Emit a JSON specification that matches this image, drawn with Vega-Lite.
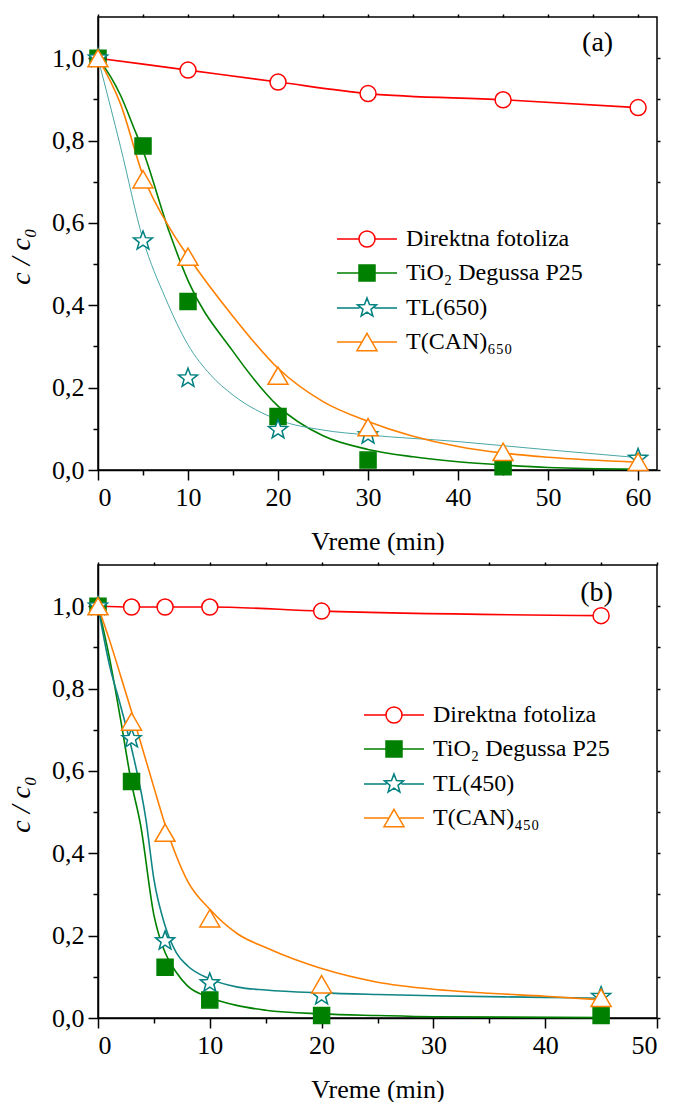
{
  "$schema": "https://vega.github.io/schema/vega-lite/v6.json",
  "padding": {"left": 6, "top": 12, "right": 5, "bottom": 0},
  "spacing": 5,
  "config": {
    "font": "Liberation Serif, Times New Roman, Times, serif",
    "view": {"stroke": "black", "strokeWidth": 1.5},
    "axis": {"grid": false, "labelFont": "Liberation Serif, Times New Roman, Times, serif", "titleFont": "Liberation Serif, Times New Roman, Times, serif", "labelColor": "black", "titleColor": "black", "tickColor": "black", "domainColor": "black", "labelFontSize": 26, "titleFontSize": 26, "titleFontWeight": "normal", "tickWidth": 1.5, "domainWidth": 1.5, "labelPadding": 4},
    "legend": {"labelFont": "Liberation Serif, Times New Roman, Times, serif", "labelFontSize": 24, "labelColor": "black", "labelLimit": 400, "symbolSize": 400, "symbolStrokeWidth": 1.5, "labelOffset": 27, "rowPadding": 10, "padding": 0, "orient": "none"}
  },
  "resolve": {"scale": {"color": "independent", "stroke": "independent", "fill": "independent", "shape": "independent"}},
  "datasets": {
    "a_pts": [
      {"series": "Direktna fotoliza", "t": 0, "v": 1.0},
      {"series": "Direktna fotoliza", "t": 10, "v": 0.971},
      {"series": "Direktna fotoliza", "t": 20, "v": 0.942},
      {"series": "Direktna fotoliza", "t": 30, "v": 0.914},
      {"series": "Direktna fotoliza", "t": 45, "v": 0.899},
      {"series": "Direktna fotoliza", "t": 60, "v": 0.880},
      {"series": "TiO₂ Degussa P25", "t": 0, "v": 1.0},
      {"series": "TiO₂ Degussa P25", "t": 5, "v": 0.787},
      {"series": "TiO₂ Degussa P25", "t": 10, "v": 0.409},
      {"series": "TiO₂ Degussa P25", "t": 20, "v": 0.130},
      {"series": "TiO₂ Degussa P25", "t": 30, "v": 0.024},
      {"series": "TiO₂ Degussa P25", "t": 45, "v": 0.008},
      {"series": "TL(650)", "t": 0, "v": 1.0},
      {"series": "TL(650)", "t": 5, "v": 0.556},
      {"series": "TL(650)", "t": 10, "v": 0.223},
      {"series": "TL(650)", "t": 20, "v": 0.098},
      {"series": "TL(650)", "t": 30, "v": 0.085},
      {"series": "TL(650)", "t": 60, "v": 0.028},
      {"series": "T(CAN)₆₅₀", "t": 0, "v": 1.0},
      {"series": "T(CAN)₆₅₀", "t": 5, "v": 0.706},
      {"series": "T(CAN)₆₅₀", "t": 10, "v": 0.518},
      {"series": "T(CAN)₆₅₀", "t": 20, "v": 0.229},
      {"series": "T(CAN)₆₅₀", "t": 30, "v": 0.104},
      {"series": "T(CAN)₆₅₀", "t": 45, "v": 0.044},
      {"series": "T(CAN)₆₅₀", "t": 60, "v": 0.020}
    ],
    "a_fit": [
      {"series": "Direktna fotoliza", "t": 0, "v": 1.0},
      {"series": "Direktna fotoliza", "t": 10, "v": 0.971},
      {"series": "Direktna fotoliza", "t": 20, "v": 0.942},
      {"series": "Direktna fotoliza", "t": 30, "v": 0.914},
      {"series": "Direktna fotoliza", "t": 45, "v": 0.899},
      {"series": "Direktna fotoliza", "t": 60, "v": 0.880},
      {"series": "TiO₂ Degussa P25", "t": 0, "v": 1.0},
      {"series": "TiO₂ Degussa P25", "t": 1.4, "v": 0.955},
      {"series": "TiO₂ Degussa P25", "t": 2.5, "v": 0.91},
      {"series": "TiO₂ Degussa P25", "t": 4, "v": 0.83},
      {"series": "TiO₂ Degussa P25", "t": 5, "v": 0.775},
      {"series": "TiO₂ Degussa P25", "t": 7.9, "v": 0.579},
      {"series": "TiO₂ Degussa P25", "t": 10, "v": 0.46},
      {"series": "TiO₂ Degussa P25", "t": 15, "v": 0.288},
      {"series": "TiO₂ Degussa P25", "t": 20, "v": 0.155},
      {"series": "TiO₂ Degussa P25", "t": 25, "v": 0.083},
      {"series": "TiO₂ Degussa P25", "t": 30, "v": 0.05},
      {"series": "TiO₂ Degussa P25", "t": 35, "v": 0.032},
      {"series": "TiO₂ Degussa P25", "t": 40, "v": 0.02},
      {"series": "TiO₂ Degussa P25", "t": 45, "v": 0.012},
      {"series": "TiO₂ Degussa P25", "t": 50, "v": 0.006},
      {"series": "TiO₂ Degussa P25", "t": 60, "v": 0.002},
      {"series": "TL(650)", "t": 0, "v": 1.0},
      {"series": "TL(650)", "t": 2.5, "v": 0.785},
      {"series": "TL(650)", "t": 5, "v": 0.56},
      {"series": "TL(650)", "t": 7.5, "v": 0.417},
      {"series": "TL(650)", "t": 10, "v": 0.304},
      {"series": "TL(650)", "t": 12.5, "v": 0.231},
      {"series": "TL(650)", "t": 15, "v": 0.182},
      {"series": "TL(650)", "t": 20, "v": 0.122},
      {"series": "TL(650)", "t": 25, "v": 0.097},
      {"series": "TL(650)", "t": 30, "v": 0.085},
      {"series": "TL(650)", "t": 40, "v": 0.069},
      {"series": "TL(650)", "t": 45, "v": 0.059},
      {"series": "TL(650)", "t": 50, "v": 0.049},
      {"series": "TL(650)", "t": 60, "v": 0.030},
      {"series": "T(CAN)₆₅₀", "t": 0, "v": 1.0},
      {"series": "T(CAN)₆₅₀", "t": 2.5, "v": 0.889},
      {"series": "T(CAN)₆₅₀", "t": 5, "v": 0.715},
      {"series": "T(CAN)₆₅₀", "t": 8.2, "v": 0.579},
      {"series": "T(CAN)₆₅₀", "t": 10, "v": 0.519},
      {"series": "T(CAN)₆₅₀", "t": 15, "v": 0.373},
      {"series": "T(CAN)₆₅₀", "t": 20, "v": 0.247},
      {"series": "T(CAN)₆₅₀", "t": 25, "v": 0.166},
      {"series": "T(CAN)₆₅₀", "t": 30, "v": 0.118},
      {"series": "T(CAN)₆₅₀", "t": 40, "v": 0.057},
      {"series": "T(CAN)₆₅₀", "t": 45, "v": 0.041},
      {"series": "T(CAN)₆₅₀", "t": 50, "v": 0.031},
      {"series": "T(CAN)₆₅₀", "t": 60, "v": 0.019}
    ],
    "b_pts": [
      {"series": "Direktna fotoliza", "t": 0, "v": 1.0},
      {"series": "Direktna fotoliza", "t": 3, "v": 0.998},
      {"series": "Direktna fotoliza", "t": 6, "v": 0.998},
      {"series": "Direktna fotoliza", "t": 10, "v": 0.998},
      {"series": "Direktna fotoliza", "t": 20, "v": 0.988},
      {"series": "Direktna fotoliza", "t": 45, "v": 0.977},
      {"series": "TiO₂ Degussa P25", "t": 0, "v": 1.0},
      {"series": "TiO₂ Degussa P25", "t": 3, "v": 0.574},
      {"series": "TiO₂ Degussa P25", "t": 6, "v": 0.123},
      {"series": "TiO₂ Degussa P25", "t": 10, "v": 0.044},
      {"series": "TiO₂ Degussa P25", "t": 20, "v": 0.006},
      {"series": "TiO₂ Degussa P25", "t": 45, "v": 0.006},
      {"series": "TL(450)", "t": 0, "v": 1.0},
      {"series": "TL(450)", "t": 3, "v": 0.678},
      {"series": "TL(450)", "t": 6, "v": 0.187},
      {"series": "TL(450)", "t": 10, "v": 0.085},
      {"series": "TL(450)", "t": 20, "v": 0.054},
      {"series": "TL(450)", "t": 45, "v": 0.052},
      {"series": "T(CAN)₄₅₀", "t": 0, "v": 1.0},
      {"series": "T(CAN)₄₅₀", "t": 3, "v": 0.72},
      {"series": "T(CAN)₄₅₀", "t": 6, "v": 0.45},
      {"series": "T(CAN)₄₅₀", "t": 10, "v": 0.242},
      {"series": "T(CAN)₄₅₀", "t": 20, "v": 0.082},
      {"series": "T(CAN)₄₅₀", "t": 45, "v": 0.049}
    ],
    "b_fit": [
      {"series": "Direktna fotoliza", "t": 0, "v": 1.0},
      {"series": "Direktna fotoliza", "t": 3, "v": 0.998},
      {"series": "Direktna fotoliza", "t": 6, "v": 0.998},
      {"series": "Direktna fotoliza", "t": 10, "v": 0.998},
      {"series": "Direktna fotoliza", "t": 20, "v": 0.988},
      {"series": "Direktna fotoliza", "t": 45, "v": 0.977},
      {"series": "TiO₂ Degussa P25", "t": 0, "v": 1.0},
      {"series": "TiO₂ Degussa P25", "t": 1, "v": 0.878},
      {"series": "TiO₂ Degussa P25", "t": 2, "v": 0.728},
      {"series": "TiO₂ Degussa P25", "t": 3, "v": 0.57},
      {"series": "TiO₂ Degussa P25", "t": 3.8, "v": 0.47},
      {"series": "TiO₂ Degussa P25", "t": 5, "v": 0.25},
      {"series": "TiO₂ Degussa P25", "t": 6, "v": 0.159},
      {"series": "TiO₂ Degussa P25", "t": 7, "v": 0.111},
      {"series": "TiO₂ Degussa P25", "t": 8, "v": 0.078},
      {"series": "TiO₂ Degussa P25", "t": 10, "v": 0.05},
      {"series": "TiO₂ Degussa P25", "t": 12.5, "v": 0.03},
      {"series": "TiO₂ Degussa P25", "t": 15, "v": 0.019},
      {"series": "TiO₂ Degussa P25", "t": 20, "v": 0.01},
      {"series": "TiO₂ Degussa P25", "t": 25, "v": 0.006},
      {"series": "TiO₂ Degussa P25", "t": 30, "v": 0.003},
      {"series": "TiO₂ Degussa P25", "t": 45, "v": 0.001},
      {"series": "TL(450)", "t": 0, "v": 1.0},
      {"series": "TL(450)", "t": 1, "v": 0.86},
      {"series": "TL(450)", "t": 2, "v": 0.76},
      {"series": "TL(450)", "t": 3, "v": 0.655},
      {"series": "TL(450)", "t": 4.3, "v": 0.48},
      {"series": "TL(450)", "t": 5, "v": 0.337},
      {"series": "TL(450)", "t": 6, "v": 0.224},
      {"series": "TL(450)", "t": 7, "v": 0.159},
      {"series": "TL(450)", "t": 8, "v": 0.127},
      {"series": "TL(450)", "t": 10, "v": 0.095},
      {"series": "TL(450)", "t": 12.5, "v": 0.075},
      {"series": "TL(450)", "t": 15, "v": 0.068},
      {"series": "TL(450)", "t": 20, "v": 0.061},
      {"series": "TL(450)", "t": 25, "v": 0.057},
      {"series": "TL(450)", "t": 30, "v": 0.054},
      {"series": "TL(450)", "t": 40, "v": 0.05},
      {"series": "TL(450)", "t": 45, "v": 0.048},
      {"series": "T(CAN)₄₅₀", "t": 0, "v": 1.0},
      {"series": "T(CAN)₄₅₀", "t": 1, "v": 0.92},
      {"series": "T(CAN)₄₅₀", "t": 2, "v": 0.833},
      {"series": "T(CAN)₄₅₀", "t": 3, "v": 0.744},
      {"series": "T(CAN)₄₅₀", "t": 4, "v": 0.652},
      {"series": "T(CAN)₄₅₀", "t": 5, "v": 0.56},
      {"series": "T(CAN)₄₅₀", "t": 6, "v": 0.47},
      {"series": "T(CAN)₄₅₀", "t": 7, "v": 0.394},
      {"series": "T(CAN)₄₅₀", "t": 8, "v": 0.333},
      {"series": "T(CAN)₄₅₀", "t": 10, "v": 0.264},
      {"series": "T(CAN)₄₅₀", "t": 12.5, "v": 0.204},
      {"series": "T(CAN)₄₅₀", "t": 15, "v": 0.171},
      {"series": "T(CAN)₄₅₀", "t": 17.5, "v": 0.143},
      {"series": "T(CAN)₄₅₀", "t": 20, "v": 0.12},
      {"series": "T(CAN)₄₅₀", "t": 25, "v": 0.087},
      {"series": "T(CAN)₄₅₀", "t": 30, "v": 0.07},
      {"series": "T(CAN)₄₅₀", "t": 35, "v": 0.06},
      {"series": "T(CAN)₄₅₀", "t": 40, "v": 0.053},
      {"series": "T(CAN)₄₅₀", "t": 45, "v": 0.044}
    ]
  },
  "vconcat": [
    {
      "width": 559,
      "height": 453,
      "resolve": {"axis": {"x": "independent", "y": "independent"}, "scale": {"shape": "independent", "stroke": "independent", "fill": "independent"}},
      "layer": [
        {
          "data": {"name": "a_fit"},
          "mark": {"type": "line", "interpolate": "monotone"},
          "encoding": {
            "x": {"field": "t", "type": "quantitative", "scale": {"domain": [0, 62.1], "nice": false, "zero": false}, "axis": {"orient": "bottom", "values": [0, 10, 20, 30, 40, 50, 60], "tickSize": 10, "title": "Vreme (min)", "titlePadding": 18}},
            "y": {"field": "v", "type": "quantitative", "scale": {"domain": [0, 1.1], "nice": false}, "axis": {"orient": "left", "values": [0, 0.2, 0.4, 0.6, 0.8, 1.0], "tickSize": 10, "labelExpr": "replace(format(datum.value, '.1f'), '.', ',')", "title": "c / c₀", "titleFontStyle": "italic", "titleFontSize": 28, "titleBaseline": "alphabetic", "titleAngle": 270, "titleX": -69, "titleY": 239}},
            "color": {"field": "series", "type": "nominal", "scale": {"domain": ["Direktna fotoliza", "TiO₂ Degussa P25", "TL(650)", "T(CAN)₆₅₀"], "range": ["#FF0000", "#008000", "#4AA6A6", "#FF8000"]}, "legend": null},
            "strokeWidth": {"condition": {"test": "datum.series === 'TL(650)'", "value": 1}, "value": 1.6}
          }
        },
        {
          "data": {"name": "a_pts"},
          "mark": {"type": "point", "filled": true, "size": 400, "strokeWidth": 1.5, "opacity": 1},
          "encoding": {
            "x": {"field": "t", "type": "quantitative", "scale": {"domain": [0, 62.1], "nice": false, "zero": false}, "axis": {"orient": "bottom", "values": [5, 15, 25, 35, 45, 55], "tickSize": 5, "labels": false, "domain": false, "title": null}},
            "y": {"field": "v", "type": "quantitative", "scale": {"domain": [0, 1.1], "nice": false}, "axis": {"orient": "left", "values": [0.1, 0.3, 0.5, 0.7, 0.9], "tickSize": 5, "labels": false, "domain": false, "title": null}},
            "shape": {"field": "series", "type": "nominal", "scale": {"domain": ["Direktna fotoliza", "TiO₂ Degussa P25", "TL(650)", "T(CAN)₆₅₀"], "range": ["M0.8,0A0.8,0.8,0,1,1,-0.8,0A0.8,0.8,0,1,1,0.8,0Z", "M-0.8,-0.8H0.8V0.8H-0.8Z", "M0,-1L0.247,-0.34L0.951,-0.309L0.399,0.13L0.588,0.809L0,0.42L-0.588,0.809L-0.399,0.13L-0.951,-0.309L-0.247,-0.34Z", "M0,-0.866L1,0.866L-1,0.866Z"]}, "legend": null},
            "stroke": {"field": "series", "type": "nominal", "scale": {"domain": ["Direktna fotoliza", "TiO₂ Degussa P25", "TL(650)", "T(CAN)₆₅₀"], "range": ["#FF0000", "#008000", "#008080", "#FF8000"]}, "legend": null},
            "fill": {"field": "series", "type": "nominal", "scale": {"domain": ["Direktna fotoliza", "TiO₂ Degussa P25", "TL(650)", "T(CAN)₆₅₀"], "range": ["#FFFFFF", "#008000", "#FFFFFF", "#FFFFFF"]}, "legend": null}
          }
        },
        {
          "data": {"name": "a_pts"},
          "mark": {"type": "point", "filled": true, "size": 400, "strokeWidth": 1.5, "opacity": 0},
          "encoding": {
            "x": {"field": "t", "type": "quantitative", "scale": {"domain": [0, 62.1], "nice": false, "zero": false}, "axis": {"orient": "top", "values": [0, 5, 10, 15, 20, 25, 30, 35, 40, 45, 50, 55, 60], "tickSize": 3, "labels": false, "domain": false, "title": null}},
            "y": {"field": "v", "type": "quantitative", "scale": {"domain": [0, 1.1], "nice": false}, "axis": {"orient": "right", "values": [0, 0.1, 0.2, 0.3, 0.4, 0.5, 0.6, 0.7, 0.8, 0.9, 1.0], "tickSize": 3, "labels": false, "domain": false, "title": null}},
            "shape": {"field": "series", "type": "nominal", "scale": {"domain": ["Direktna fotoliza", "TiO₂ Degussa P25", "TL(650)", "T(CAN)₆₅₀"], "range": ["M-3,0H-0.8M0.8,0H3M0.8,0A0.8,0.8,0,1,1,-0.8,0A0.8,0.8,0,1,1,0.8,0Z", "M-3,0H-0.8M0.8,0H3M-0.8,-0.8H0.8V0.8H-0.8ZM-0.8,-0.7H0.8M-0.8,-0.6H0.8M-0.8,-0.5H0.8M-0.8,-0.4H0.8M-0.8,-0.3H0.8M-0.8,-0.2H0.8M-0.8,-0.1H0.8M-0.8,0H0.8M-0.8,0.1H0.8M-0.8,0.2H0.8M-0.8,0.3H0.8M-0.8,0.4H0.8M-0.8,0.5H0.8M-0.8,0.6H0.8M-0.8,0.7H0.8", "M-3,0H-0.75M0.75,0H3M0,-1L0.247,-0.34L0.951,-0.309L0.399,0.13L0.588,0.809L0,0.42L-0.588,0.809L-0.399,0.13L-0.951,-0.309L-0.247,-0.34Z", "M-3,0H-0.5M0.5,0H3M0,-0.866L1,0.866L-1,0.866Z"]}, "legend": {"title": null, "orient": "none", "legendX": 257, "legendY": 210}},
            "stroke": {"field": "series", "type": "nominal", "scale": {"domain": ["Direktna fotoliza", "TiO₂ Degussa P25", "TL(650)", "T(CAN)₆₅₀"], "range": ["#FF0000", "#008000", "#008080", "#FF8000"]}, "legend": {"title": null, "orient": "none", "legendX": 257, "legendY": 210}},
            "fill": {"field": "series", "type": "nominal", "scale": {"domain": ["Direktna fotoliza", "TiO₂ Degussa P25", "TL(650)", "T(CAN)₆₅₀"], "range": ["#FFFFFF", "#008000", "#FFFFFF", "#FFFFFF"]}, "legend": {"title": null, "orient": "none", "legendX": 257, "legendY": 210}}
          }
        },
        {
          "data": {"values": [{"label": "(a)"}]},
          "mark": {"type": "text", "fontSize": 28, "color": "black", "baseline": "middle", "align": "center"},
          "encoding": {
            "x": {"datum": 55.5, "type": "quantitative", "scale": {"domain": [0, 62.1], "nice": false, "zero": false}, "axis": null},
            "y": {"datum": 1.036, "type": "quantitative", "scale": {"domain": [0, 1.1], "nice": false}, "axis": null},
            "text": {"field": "label"}
          }
        }
      ]
    },
    {
      "width": 559,
      "height": 453,
      "resolve": {"axis": {"x": "independent", "y": "independent"}, "scale": {"shape": "independent", "stroke": "independent", "fill": "independent"}},
      "layer": [
        {
          "data": {"name": "b_fit"},
          "mark": {"type": "line", "interpolate": "monotone"},
          "encoding": {
            "x": {"field": "t", "type": "quantitative", "scale": {"domain": [0, 50], "nice": false, "zero": false}, "axis": {"orient": "bottom", "values": [0, 10, 20, 30, 40, 50], "tickSize": 10, "title": "Vreme (min)", "titlePadding": 18}},
            "y": {"field": "v", "type": "quantitative", "scale": {"domain": [0, 1.1], "nice": false}, "axis": {"orient": "left", "values": [0, 0.2, 0.4, 0.6, 0.8, 1.0], "tickSize": 10, "labelExpr": "replace(format(datum.value, '.1f'), '.', ',')", "title": "c / c₀", "titleFontStyle": "italic", "titleFontSize": 28, "titleBaseline": "alphabetic", "titleAngle": 270, "titleX": -69, "titleY": 239}},
            "color": {"field": "series", "type": "nominal", "scale": {"domain": ["Direktna fotoliza", "TiO₂ Degussa P25", "TL(450)", "T(CAN)₄₅₀"], "range": ["#FF0000", "#008000", "#108585", "#FF8000"]}, "legend": null},
            "strokeWidth": {"value": 1.6}
          }
        },
        {
          "data": {"name": "b_pts"},
          "mark": {"type": "point", "filled": true, "size": 400, "strokeWidth": 1.5, "opacity": 1},
          "encoding": {
            "x": {"field": "t", "type": "quantitative", "scale": {"domain": [0, 50], "nice": false, "zero": false}, "axis": {"orient": "bottom", "values": [5, 15, 25, 35, 45], "tickSize": 5, "labels": false, "domain": false, "title": null}},
            "y": {"field": "v", "type": "quantitative", "scale": {"domain": [0, 1.1], "nice": false}, "axis": {"orient": "left", "values": [0.1, 0.3, 0.5, 0.7, 0.9], "tickSize": 5, "labels": false, "domain": false, "title": null}},
            "shape": {"field": "series", "type": "nominal", "scale": {"domain": ["Direktna fotoliza", "TiO₂ Degussa P25", "TL(450)", "T(CAN)₄₅₀"], "range": ["M0.8,0A0.8,0.8,0,1,1,-0.8,0A0.8,0.8,0,1,1,0.8,0Z", "M-0.8,-0.8H0.8V0.8H-0.8Z", "M0,-1L0.247,-0.34L0.951,-0.309L0.399,0.13L0.588,0.809L0,0.42L-0.588,0.809L-0.399,0.13L-0.951,-0.309L-0.247,-0.34Z", "M0,-0.866L1,0.866L-1,0.866Z"]}, "legend": null},
            "stroke": {"field": "series", "type": "nominal", "scale": {"domain": ["Direktna fotoliza", "TiO₂ Degussa P25", "TL(450)", "T(CAN)₄₅₀"], "range": ["#FF0000", "#008000", "#008080", "#FF8000"]}, "legend": null},
            "fill": {"field": "series", "type": "nominal", "scale": {"domain": ["Direktna fotoliza", "TiO₂ Degussa P25", "TL(450)", "T(CAN)₄₅₀"], "range": ["#FFFFFF", "#008000", "#FFFFFF", "#FFFFFF"]}, "legend": null}
          }
        },
        {
          "data": {"name": "b_pts"},
          "mark": {"type": "point", "filled": true, "size": 400, "strokeWidth": 1.5, "opacity": 0},
          "encoding": {
            "x": {"field": "t", "type": "quantitative", "scale": {"domain": [0, 50], "nice": false, "zero": false}, "axis": {"orient": "top", "values": [0, 5, 10, 15, 20, 25, 30, 35, 40, 45, 50], "tickSize": 3, "labels": false, "domain": false, "title": null}},
            "y": {"field": "v", "type": "quantitative", "scale": {"domain": [0, 1.1], "nice": false}, "axis": {"orient": "right", "values": [0, 0.1, 0.2, 0.3, 0.4, 0.5, 0.6, 0.7, 0.8, 0.9, 1.0], "tickSize": 3, "labels": false, "domain": false, "title": null}},
            "shape": {"field": "series", "type": "nominal", "scale": {"domain": ["Direktna fotoliza", "TiO₂ Degussa P25", "TL(450)", "T(CAN)₄₅₀"], "range": ["M-3,0H-0.8M0.8,0H3M0.8,0A0.8,0.8,0,1,1,-0.8,0A0.8,0.8,0,1,1,0.8,0Z", "M-3,0H-0.8M0.8,0H3M-0.8,-0.8H0.8V0.8H-0.8ZM-0.8,-0.7H0.8M-0.8,-0.6H0.8M-0.8,-0.5H0.8M-0.8,-0.4H0.8M-0.8,-0.3H0.8M-0.8,-0.2H0.8M-0.8,-0.1H0.8M-0.8,0H0.8M-0.8,0.1H0.8M-0.8,0.2H0.8M-0.8,0.3H0.8M-0.8,0.4H0.8M-0.8,0.5H0.8M-0.8,0.6H0.8M-0.8,0.7H0.8", "M-3,0H-0.75M0.75,0H3M0,-1L0.247,-0.34L0.951,-0.309L0.399,0.13L0.588,0.809L0,0.42L-0.588,0.809L-0.399,0.13L-0.951,-0.309L-0.247,-0.34Z", "M-3,0H-0.5M0.5,0H3M0,-0.866L1,0.866L-1,0.866Z"]}, "legend": {"title": null, "orient": "none", "legendX": 284, "legendY": 138}},
            "stroke": {"field": "series", "type": "nominal", "scale": {"domain": ["Direktna fotoliza", "TiO₂ Degussa P25", "TL(450)", "T(CAN)₄₅₀"], "range": ["#FF0000", "#008000", "#008080", "#FF8000"]}, "legend": {"title": null, "orient": "none", "legendX": 284, "legendY": 138}},
            "fill": {"field": "series", "type": "nominal", "scale": {"domain": ["Direktna fotoliza", "TiO₂ Degussa P25", "TL(450)", "T(CAN)₄₅₀"], "range": ["#FFFFFF", "#008000", "#FFFFFF", "#FFFFFF"]}, "legend": {"title": null, "orient": "none", "legendX": 284, "legendY": 138}}
          }
        },
        {
          "data": {"values": [{"label": "(b)"}]},
          "mark": {"type": "text", "fontSize": 28, "color": "black", "baseline": "middle", "align": "center"},
          "encoding": {
            "x": {"datum": 44.6, "type": "quantitative", "scale": {"domain": [0, 50], "nice": false, "zero": false}, "axis": null},
            "y": {"datum": 1.031, "type": "quantitative", "scale": {"domain": [0, 1.1], "nice": false}, "axis": null},
            "text": {"field": "label"}
          }
        }
      ]
    }
  ]
}
